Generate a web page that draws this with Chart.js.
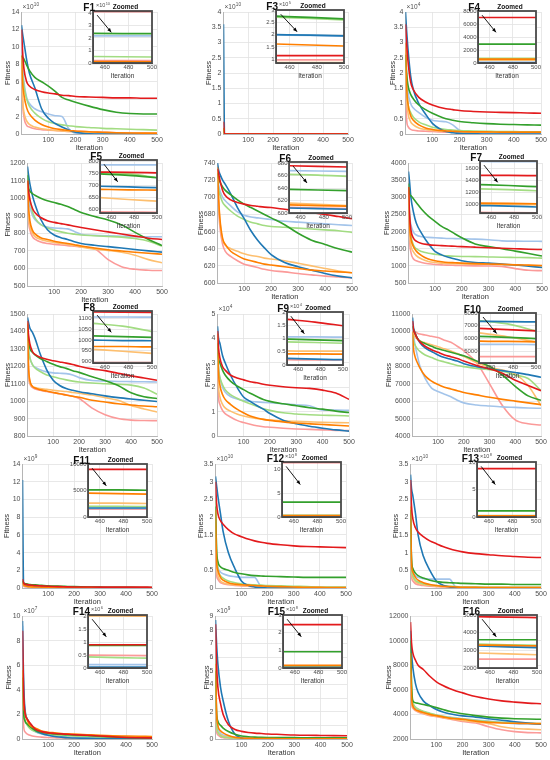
<!DOCTYPE html>
<html>
<head>
<meta charset="utf-8">
<script src="https://cdn.jsdelivr.net/npm/chart.js@4.4.1/dist/chart.umd.min.js"></script>
<style>
  body { margin: 0; background: #fff; }
  #fig { position: relative; width: 550px; height: 760px; overflow: hidden; background: #fff; }
  #fig canvas { position: absolute; }
</style>
</head>
<body>
<div id="fig"></div>
<script>
// iterations sampled from the curves (main plots) and the zoomed window
const IT = [1, 5, 10, 20, 30, 50, 75, 100, 125, 150, 175, 200, 250, 300, 350, 400, 450, 500];
const IT_ZOOM = [450, 475, 500];
const X_TICKS = [100, 200, 300, 400, 500];
const ZOOM_X_TICKS = [460, 480, 500];

// series order in every panel array below
const SERIES = ['lightblue', 'blue', 'lightgreen', 'green', 'pink', 'red', 'lightorange', 'orange'];
const COLORS = ['#a3c4ea', '#1f78b4', '#a2dc82', '#33a02c', '#fb9a99', '#e31a1c', '#fdbf6f', '#ff7f00'];
const Z_ORDER = [6, 3, 4, 2, 7, 0, 5, 1]; // lower = drawn on top

// ---- F1 (x1e10) ----
const F1_MAIN = [
  [11, 8, 6, 4.2, 3.5, 2.9, 2.55, 2.3, 2.1, 2.0, 0.6, 0.1, 0.03, 0.02, 0.01, 0.01, 0.01, 0.01],
  [12.5, 11.5, 10.5, 8.5, 7.0, 5.3, 2.9, 1.8, 1.2, 0.8, 0.45, 0.2, 0.03, 0, 0, 0, 0, 0],
  [9, 7, 5.5, 4.0, 3.2, 2.4, 1.8, 1.4, 1.2, 1.05, 0.95, 0.85, 0.75, 0.65, 0.6, 0.55, 0.5, 0.45],
  [9, 8.8, 8.6, 7.9, 7.3, 6.5, 6.0, 5.5, 4.9, 4.2, 3.9, 3.65, 3.2, 2.8, 2.5, 2.35, 2.3, 2.3],
  [11, 4, 2, 1.0, 0.8, 0.6, 0.5, 0.45, 0.4, 0.35, 0.3, 0.3, 0.25, 0.2, 0.15, 0.1, 0.08, 0.05],
  [12, 9.5, 7.5, 6.0, 5.5, 5.1, 4.85, 4.7, 4.6, 4.45, 4.4, 4.3, 4.25, 4.2, 4.15, 4.15, 4.1, 4.1],
  [8, 4, 2.5, 1.5, 1.1, 0.8, 0.6, 0.5, 0.4, 0.35, 0.3, 0.25, 0.2, 0.15, 0.12, 0.1, 0.08, 0.05],
  [9, 6, 4.5, 3.0, 2.3, 1.6, 1.1, 0.8, 0.6, 0.5, 0.4, 0.35, 0.25, 0.2, 0.15, 0.12, 0.1, 0.1]
];
const F1_ZOOM = [[2.16, 2.16, 2.16], [0.02, 0.02, 0.02], [0.52, 0.5, 0.48], [2.36, 2.35, 2.34],
  [0.2, 0.2, 0.2], [4.12, 4.12, 4.12], [0.06, 0.06, 0.06], [0.12, 0.11, 0.1]];
const F1_YT = [0, 2, 4, 6, 8, 10, 12, 14];
const F1_ZYT = [0, 1, 2, 3, 4];

// ---- F3 (x1e10, zoom x1e5) ----
const F3_MAIN = [
  [0.3, 0, 0, 0, 0, 0, 0, 0, 0, 0, 0, 0, 0, 0, 0, 0, 0, 0],
  [3.6, 0, 0, 0, 0, 0, 0, 0, 0, 0, 0, 0, 0, 0, 0, 0, 0, 0],
  [0.15, 0, 0, 0, 0, 0, 0, 0, 0, 0, 0, 0, 0, 0, 0, 0, 0, 0],
  [0.2, 0, 0, 0, 0, 0, 0, 0, 0, 0, 0, 0, 0, 0, 0, 0, 0, 0],
  [0.1, 0, 0, 0, 0, 0, 0, 0, 0, 0, 0, 0, 0, 0, 0, 0, 0, 0],
  [0.4, 0, 0, 0, 0, 0, 0, 0, 0, 0, 0, 0, 0, 0, 0, 0, 0, 0],
  [0.1, 0, 0, 0, 0, 0, 0, 0, 0, 0, 0, 0, 0, 0, 0, 0, 0, 0],
  [0.2, 0, 0, 0, 0, 0, 0, 0, 0, 0, 0, 0, 0, 0, 0, 0, 0, 0]
];
const F3_ZOOM = [[1.99, 1.97, 1.94], [2.0, 1.98, 1.95], [2.71, 2.66, 2.6], [2.75, 2.7, 2.64],
  [0.98, 0.98, 0.98], [1.15, 1.15, 1.15], [0.87, 0.87, 0.87], [1.62, 1.58, 1.54]];
const F3_YT = [0, 0.5, 1, 1.5, 2, 2.5, 3, 3.5, 4];
const F3_ZYT = [1, 1.5, 2, 2.5, 3];

// ---- F4 (x1e4) ----
const F4_MAIN = [
  [3.2, 2.0, 1.4, 1.0, 0.85, 0.7, 0.55, 0.45, 0.42, 0.4, 0.3, 0.12, 0.05, 0.03, 0.02, 0.02, 0.02, 0.02],
  [4.0, 3.4, 2.8, 1.9, 1.45, 1.0, 0.65, 0.35, 0.18, 0.08, 0.04, 0.02, 0.01, 0, 0, 0, 0, 0],
  [2.4, 1.5, 1.0, 0.7, 0.55, 0.4, 0.3, 0.22, 0.18, 0.15, 0.13, 0.11, 0.1, 0.09, 0.08, 0.08, 0.07, 0.07],
  [2.6, 2.0, 1.6, 1.3, 1.15, 0.95, 0.8, 0.68, 0.58, 0.5, 0.45, 0.41, 0.37, 0.34, 0.32, 0.31, 0.3, 0.29],
  [2.0, 0.5, 0.25, 0.15, 0.12, 0.1, 0.09, 0.08, 0.07, 0.06, 0.06, 0.05, 0.05, 0.05, 0.05, 0.05, 0.05, 0.05],
  [3.6, 3.0, 2.4, 1.7, 1.45, 1.2, 1.05, 0.95, 0.88, 0.83, 0.8, 0.77, 0.74, 0.72, 0.71, 0.7, 0.69, 0.68],
  [2.8, 1.2, 0.7, 0.4, 0.3, 0.2, 0.15, 0.12, 0.1, 0.09, 0.08, 0.07, 0.06, 0.06, 0.05, 0.05, 0.05, 0.05],
  [3.0, 1.6, 1.0, 0.6, 0.45, 0.3, 0.2, 0.15, 0.12, 0.1, 0.09, 0.08, 0.07, 0.07, 0.06, 0.06, 0.06, 0.06]
];
const F4_ZOOM = [[150, 150, 150], [20, 20, 20], [720, 710, 700], [2900, 2900, 2900],
  [500, 500, 500], [7000, 7000, 7000], [450, 450, 450], [600, 600, 600]];
const F4_YT = [0, 0.5, 1, 1.5, 2, 2.5, 3, 3.5, 4];
const F4_ZYT = [0, 2000, 4000, 6000, 8000];

// ---- F5 ----
const F5_MAIN = [
  [1120, 1000, 950, 900, 875, 850, 835, 830, 828, 825, 810, 795, 788, 785, 783, 781, 780, 780],
  [1180, 1130, 1080, 1010, 960, 880, 820, 790, 775, 765, 752, 742, 732, 724, 716, 708, 700, 693],
  [1150, 1050, 990, 920, 885, 850, 830, 818, 808, 800, 795, 790, 786, 782, 778, 770, 755, 727],
  [1130, 1060, 1040, 1025, 1015, 1000, 985, 975, 965, 952, 935, 918, 895, 876, 848, 805, 765, 730],
  [1100, 880, 820, 780, 765, 750, 742, 737, 733, 730, 726, 722, 712, 650, 610, 595, 590, 588],
  [1100, 1040, 990, 940, 915, 890, 872, 862, 855, 848, 840, 833, 820, 808, 796, 784, 772, 765],
  [1080, 900, 840, 800, 780, 765, 755, 748, 742, 736, 730, 722, 710, 702, 692, 675, 650, 632],
  [1100, 950, 870, 815, 795, 775, 765, 755, 748, 742, 735, 728, 716, 706, 699, 692, 686, 681]
];
const F5_ZOOM = [[786, 786, 786], [696, 693, 690], [755, 748, 733], [748, 742, 732],
  [588, 587, 586], [756, 755, 753], [648, 640, 633], [683, 681, 680]];
const F5_YT = [500, 600, 700, 800, 900, 1000, 1100, 1200];
const F5_ZYT = [600, 650, 700, 750, 800];

// ---- F6 ----
const F6_MAIN = [
  [725, 715, 708, 700, 696, 690, 683, 679, 677, 676, 675, 674, 672, 671, 670, 669, 668, 667],
  [740, 732, 727, 720, 715, 704, 688, 675, 661, 650, 641, 633, 624, 619, 615, 611, 608, 606],
  [720, 710, 703, 694, 690, 684, 678, 674, 671, 669, 667, 666, 665, 664, 663, 662, 661, 659],
  [728, 722, 718, 712, 708, 703, 697, 692, 688, 684, 680, 676, 668, 658, 650, 645, 640, 636],
  [725, 688, 665, 645, 637, 631, 626, 622, 620, 618, 616, 614.5, 613, 611, 609.5, 608, 607, 606],
  [733, 728, 720, 708, 702, 697, 694, 692, 690.5, 689.5, 688.5, 688, 686, 684, 682, 680, 677.5, 675],
  [730, 695, 672, 650, 644, 640, 637, 634, 632, 631, 629, 628, 626, 623, 620, 617, 614, 612],
  [735, 700, 675, 652, 645, 637, 632, 628, 626, 624, 622, 621, 619, 617, 615, 614, 613, 612]
];
const F6_ZOOM = [[668, 667.5, 667], [608, 607, 606], [662, 661, 659], [638, 637, 636],
  [609, 608, 607], [676, 675, 674], [616, 614, 612], [613, 612, 611]];
const F6_YT = [600, 620, 640, 660, 680, 700, 720, 740];
const F6_ZYT = [600, 620, 640, 660, 680];

// ---- F7 ----
const F7_MAIN = [
  [3200, 2500, 2200, 1980, 1900, 1850, 1830, 1820, 1810, 1800, 1795, 1790, 1780, 1760, 1730, 1720, 1718, 1715],
  [3750, 3450, 3000, 2550, 2250, 1950, 1650, 1420, 1320, 1250, 1200, 1150, 1100, 1080, 1050, 1030, 990, 950],
  [3300, 2400, 1900, 1600, 1500, 1420, 1370, 1340, 1310, 1290, 1280, 1275, 1270, 1260, 1250, 1245, 1240, 1225],
  [3400, 3100, 3050, 2950, 2850, 2650, 2450, 2300, 2150, 2050, 1930, 1820, 1640, 1560, 1500, 1430, 1360, 1285],
  [3300, 1800, 1400, 1200, 1150, 1100, 1060, 1040, 1030, 1020, 1015, 1010, 1000, 995, 985, 920, 870, 860],
  [3300, 2500, 2050, 1800, 1720, 1650, 1620, 1600, 1590, 1580, 1570, 1560, 1545, 1530, 1515, 1500, 1485, 1475],
  [3200, 2000, 1600, 1400, 1300, 1200, 1130, 1100, 1080, 1070, 1060, 1055, 1050, 1045, 1035, 1020, 1010, 1000],
  [3300, 2200, 1800, 1550, 1430, 1300, 1200, 1150, 1120, 1100, 1090, 1080, 1065, 1055, 1045, 1030, 1020, 1010]
];
const F7_ZOOM = [[1722, 1720, 1718], [985, 975, 960], [1265, 1250, 1232], [1335, 1320, 1300],
  [870, 866, 862], [1490, 1488, 1485], [1010, 1005, 1000], [1025, 1020, 1015]];
const F7_YT = [500, 1000, 1500, 2000, 2500, 3000, 3500, 4000];
const F7_ZYT = [1000, 1200, 1400, 1600];

// ---- F8 ----
const F8_MAIN = [
  [1420, 1300, 1250, 1210, 1195, 1180, 1168, 1162, 1160, 1158, 1150, 1135, 1118, 1115, 1113, 1112, 1111, 1110],
  [1480, 1450, 1420, 1395, 1360, 1270, 1180, 1120, 1090, 1072, 1062, 1054, 1042, 1030, 1020, 1012, 1005, 998],
  [1420, 1300, 1250, 1210, 1190, 1170, 1150, 1140, 1130, 1122, 1115, 1110, 1104, 1100, 1096, 1092, 1075, 1040],
  [1440, 1350, 1305, 1280, 1265, 1245, 1228, 1212, 1198, 1188, 1175, 1165, 1140, 1118, 1090, 1048, 1025, 1015],
  [1400, 1150, 1100, 1078, 1070, 1062, 1055, 1048, 1042, 1036, 1028, 1015, 960, 922, 900, 891, 889, 888],
  [1460, 1380, 1330, 1285, 1268, 1252, 1240, 1232, 1225, 1218, 1210, 1200, 1185, 1175, 1160, 1145, 1133, 1120],
  [1420, 1180, 1110, 1085, 1078, 1072, 1068, 1062, 1058, 1055, 1050, 1045, 1035, 1020, 1005, 975, 955, 938],
  [1450, 1200, 1120, 1085, 1075, 1065, 1058, 1050, 1042, 1035, 1028, 1022, 1005, 995, 985, 978, 972, 968]
];
const F8_ZOOM = [[1108, 1108, 1107], [1000, 998, 997], [1078, 1065, 1040], [1020, 1016, 1013],
  [895, 895, 895], [1132, 1131, 1130], [957, 948, 938], [970, 970, 968]];
const F8_YT = [800, 900, 1000, 1100, 1200, 1300, 1400, 1500];
const F8_ZYT = [900, 950, 1000, 1050, 1100];

// ---- F9 (x1e4) ----
const F9_MAIN = [
  [3.5, 2.8, 2.4, 2.0, 1.8, 1.62, 1.52, 1.45, 1.42, 1.4, 1.38, 1.36, 1.32, 1.28, 1.24, 1.06, 1.06, 1.05],
  [4.5, 4.0, 3.8, 3.3, 3.0, 2.5, 2.0, 1.6, 1.42, 1.25, 1.1, 0.92, 0.65, 0.5, 0.4, 0.32, 0.25, 0.2],
  [3.4, 2.7, 2.4, 2.1, 1.9, 1.7, 1.55, 1.42, 1.32, 1.22, 1.12, 1.05, 0.95, 0.9, 0.87, 0.85, 0.84, 0.82],
  [3.8, 3.2, 3.0, 2.7, 2.5, 2.25, 2.05, 1.9, 1.75, 1.62, 1.5, 1.42, 1.32, 1.24, 1.16, 1.1, 1.02, 0.96],
  [2.8, 1.6, 1.3, 1.05, 0.92, 0.78, 0.64, 0.55, 0.48, 0.42, 0.38, 0.36, 0.32, 0.29, 0.27, 0.25, 0.23, 0.22],
  [4.3, 3.6, 3.2, 2.85, 2.7, 2.5, 2.38, 2.3, 2.22, 2.18, 2.12, 2.08, 2.02, 1.98, 1.95, 1.88, 1.76, 1.5],
  [3.0, 2.0, 1.6, 1.3, 1.15, 1.02, 0.9, 0.82, 0.76, 0.72, 0.68, 0.65, 0.62, 0.6, 0.58, 0.56, 0.55, 0.54],
  [4.2, 2.6, 2.1, 1.7, 1.5, 1.3, 1.1, 0.95, 0.82, 0.74, 0.68, 0.64, 0.58, 0.53, 0.5, 0.47, 0.44, 0.41]
];
const F9_ZOOM = [[1.06, 1.06, 1.05], [0.25, 0.22, 0.2], [0.87, 0.85, 0.82], [0.98, 0.95, 0.92],
  [0.2, 0.19, 0.19], [1.72, 1.62, 1.48], [0.53, 0.52, 0.52], [0.42, 0.42, 0.41]];
const F9_YT = [0, 1, 2, 3, 4, 5];
const F9_ZYT = [0, 0.5, 1, 1.5, 2];

// ---- F10 ----
const F10_MAIN = [
  [10500, 9800, 9300, 8600, 8000, 7300, 6750, 6550, 6400, 6250, 6050, 5900, 5780, 5720, 5670, 5640, 5610, 5590],
  [10800, 10200, 9950, 9600, 9350, 9050, 8850, 8650, 8500, 8400, 8300, 8150, 7980, 7860, 7750, 7640, 7520, 7370],
  [9800, 9450, 9250, 9000, 8850, 8650, 8500, 8350, 8250, 8150, 8050, 7980, 7880, 7800, 7720, 7500, 7300, 6600],
  [10300, 10100, 9900, 9600, 9450, 9300, 9150, 9000, 8900, 8800, 8700, 8600, 8300, 8000, 7500, 6850, 6300, 6050],
  [10300, 10100, 10000, 9900, 9850, 9800, 9720, 9650, 9500, 9380, 9150, 8900, 8200, 7000, 5750, 4920, 4700, 4630],
  [10600, 10100, 9900, 9600, 9400, 9150, 8950, 8800, 8650, 8550, 8450, 8300, 8050, 7850, 7600, 7200, 6900, 6600],
  [10000, 9800, 9700, 9550, 9450, 9350, 9230, 9120, 9000, 8880, 8730, 8580, 8200, 7950, 7780, 7550, 6900, 5750],
  [10000, 9000, 8600, 8200, 7900, 7450, 7150, 6950, 6800, 6700, 6600, 6500, 6360, 6220, 6100, 6000, 5900, 5800]
];
const F10_ZOOM = [[5550, 5550, 5540], [7350, 7320, 7300], [7400, 7150, 6600], [6180, 6100, 6000],
  [4600, 4600, 4600], [6800, 6700, 6600], [6450, 6150, 5750], [5800, 5780, 5750]];
const F10_YT = [4000, 5000, 6000, 7000, 8000, 9000, 10000, 11000];
const F10_ZYT = [5000, 6000, 7000, 8000];

// ---- F11 (x1e9) ----
const F11_MAIN = [
  [0.5, 0.3, 0.2, 0.15, 0.12, 0.1, 0.08, 0.06, 0.05, 0.04, 0.03, 0.03, 0.02, 0.02, 0.01, 0.01, 0.01, 0.01],
  [12.2, 0.6, 0.4, 0.3, 0.25, 0.2, 0.15, 0.1, 0.08, 0.06, 0.05, 0.04, 0.03, 0.02, 0.02, 0.01, 0.01, 0.01],
  [0.7, 0.45, 0.4, 0.35, 0.32, 0.28, 0.24, 0.2, 0.17, 0.15, 0.13, 0.11, 0.09, 0.07, 0.06, 0.05, 0.04, 0.03],
  [0.8, 0.55, 0.5, 0.45, 0.4, 0.35, 0.3, 0.25, 0.22, 0.2, 0.17, 0.15, 0.12, 0.1, 0.08, 0.07, 0.06, 0.05],
  [0.4, 0.2, 0.15, 0.1, 0.08, 0.06, 0.05, 0.04, 0.03, 0.03, 0.02, 0.02, 0.02, 0.01, 0.01, 0.01, 0.01, 0.01],
  [1.0, 0.6, 0.45, 0.38, 0.33, 0.28, 0.24, 0.2, 0.17, 0.15, 0.13, 0.12, 0.11, 0.1, 0.1, 0.1, 0.1, 0.09],
  [0.5, 0.3, 0.22, 0.16, 0.13, 0.1, 0.08, 0.06, 0.05, 0.04, 0.03, 0.03, 0.02, 0.02, 0.02, 0.01, 0.01, 0.01],
  [0.6, 0.35, 0.25, 0.18, 0.15, 0.12, 0.1, 0.08, 0.06, 0.05, 0.04, 0.03, 0.03, 0.02, 0.02, 0.02, 0.01, 0.01]
];
const F11_ZOOM = [[1600, 1600, 1600], [1700, 1700, 1700], [2000, 2000, 1950], [5100, 5100, 5050],
  [1500, 1500, 1500], [9000, 9000, 9000], [2600, 2600, 2550], [4500, 4400, 4300]];
const F11_YT = [0, 2, 4, 6, 8, 10, 12, 14];
const F11_ZYT = [0, 5000, 10000];

// ---- F12 (x1e10, zoom x1e8) ----
const F12_MAIN = [
  [2.0, 1.0, 0.6, 0.45, 0.4, 0.35, 0.32, 0.3, 0.3, 0.3, 0.05, 0.02, 0.01, 0, 0, 0, 0, 0],
  [3.15, 2.9, 2.6, 2.1, 1.6, 1.0, 0.55, 0.2, 0.08, 0.03, 0.01, 0, 0, 0, 0, 0, 0, 0],
  [2.5, 1.0, 0.55, 0.35, 0.28, 0.2, 0.15, 0.12, 0.1, 0.09, 0.08, 0.07, 0.06, 0.05, 0.04, 0.03, 0.03, 0.03],
  [2.3, 1.1, 0.75, 0.6, 0.55, 0.5, 0.44, 0.4, 0.37, 0.35, 0.34, 0.33, 0.32, 0.31, 0.3, 0.3, 0.3, 0.3],
  [1.5, 0.4, 0.25, 0.15, 0.12, 0.09, 0.07, 0.06, 0.05, 0.04, 0.04, 0.03, 0.02, 0.02, 0.01, 0.01, 0.01, 0.01],
  [3.0, 2.4, 2.1, 1.9, 1.8, 1.65, 1.52, 1.45, 1.38, 1.33, 1.29, 1.26, 1.22, 1.19, 1.17, 1.16, 1.15, 1.14],
  [1.8, 0.6, 0.35, 0.2, 0.15, 0.11, 0.09, 0.07, 0.06, 0.05, 0.04, 0.03, 0.02, 0.02, 0.01, 0.01, 0.01, 0.01],
  [2.2, 0.8, 0.5, 0.3, 0.22, 0.15, 0.11, 0.09, 0.08, 0.07, 0.06, 0.05, 0.04, 0.03, 0.02, 0.02, 0.01, 0.01]
];
const F12_ZOOM = [[0.3, 0.3, 0.3], [0.1, 0.1, 0.1], [0.35, 0.35, 0.35], [3.1, 3.1, 3.1],
  [0.2, 0.2, 0.2], [11.4, 11.4, 11.4], [0.25, 0.25, 0.25], [0.3, 0.3, 0.3]];
const F12_YT = [0, 0.5, 1, 1.5, 2, 2.5, 3, 3.5];
const F12_ZYT = [0, 5, 10];

// ---- F13 (x1e10, zoom x1e8) ----
const F13_MAIN = [
  [2.0, 0.8, 0.5, 0.35, 0.3, 0.26, 0.25, 0.25, 0.25, 0.25, 0.03, 0.02, 0.01, 0, 0, 0, 0, 0],
  [3.2, 2.8, 2.6, 2.1, 1.5, 0.9, 0.5, 0.2, 0.08, 0.03, 0.01, 0, 0, 0, 0, 0, 0, 0],
  [2.3, 0.6, 0.35, 0.22, 0.17, 0.12, 0.09, 0.07, 0.06, 0.05, 0.04, 0.03, 0.03, 0.02, 0.02, 0.02, 0.02, 0.02],
  [2.2, 0.8, 0.55, 0.42, 0.35, 0.28, 0.22, 0.18, 0.16, 0.15, 0.14, 0.13, 0.12, 0.11, 0.11, 0.1, 0.1, 0.1],
  [1.6, 0.35, 0.2, 0.12, 0.09, 0.07, 0.05, 0.04, 0.03, 0.03, 0.02, 0.02, 0.01, 0.01, 0.01, 0.01, 0.01, 0.01],
  [3.05, 2.3, 1.95, 1.7, 1.58, 1.45, 1.33, 1.25, 1.17, 1.11, 1.06, 1.02, 0.97, 0.94, 0.91, 0.89, 0.87, 0.86],
  [1.8, 0.5, 0.3, 0.18, 0.13, 0.09, 0.07, 0.05, 0.04, 0.03, 0.02, 0.02, 0.01, 0.01, 0.01, 0.01, 0.01, 0.01],
  [2.3, 0.7, 0.45, 0.3, 0.22, 0.15, 0.1, 0.07, 0.05, 0.04, 0.03, 0.02, 0.02, 0.01, 0.01, 0.01, 0.01, 0.01]
];
const F13_ZOOM = [[0.2, 0.2, 0.2], [0.1, 0.1, 0.1], [0.25, 0.25, 0.25], [1.1, 1.1, 1.1],
  [0.15, 0.15, 0.15], [8.8, 8.8, 8.8], [0.2, 0.2, 0.2], [0.2, 0.2, 0.2]];
const F13_YT = [0, 0.5, 1, 1.5, 2, 2.5, 3, 3.5];
const F13_ZYT = [0, 5, 10];

// ---- F14 (x1e7, zoom x1e6) ----
const F14_MAIN = [
  [9.2, 4.0, 2.5, 1.5, 1.0, 0.6, 0.4, 0.3, 0.25, 0.2, 0.18, 0.15, 0.12, 0.1, 0.08, 0.05, 0.03, 0.02],
  [9.6, 5.0, 2.5, 1.6, 1.2, 0.7, 0.45, 0.3, 0.2, 0.15, 0.1, 0.08, 0.05, 0.04, 0.03, 0.02, 0.01, 0.01],
  [6.0, 2.5, 1.6, 1.1, 0.85, 0.6, 0.45, 0.38, 0.33, 0.3, 0.27, 0.25, 0.2, 0.15, 0.1, 0.07, 0.05, 0.04],
  [5.0, 2.2, 1.5, 1.2, 1.0, 0.7, 0.55, 0.48, 0.42, 0.38, 0.35, 0.32, 0.28, 0.22, 0.17, 0.13, 0.1, 0.09],
  [6.5, 1.2, 0.6, 0.4, 0.3, 0.2, 0.15, 0.12, 0.1, 0.08, 0.07, 0.06, 0.06, 0.05, 0.05, 0.05, 0.05, 0.05],
  [8.8, 4.0, 2.2, 1.6, 1.3, 0.8, 0.6, 0.5, 0.45, 0.42, 0.38, 0.35, 0.3, 0.25, 0.18, 0.12, 0.1, 0.09],
  [5.4, 2.4, 1.6, 1.2, 0.95, 0.7, 0.55, 0.45, 0.4, 0.35, 0.32, 0.3, 0.26, 0.23, 0.2, 0.18, 0.15, 0.14],
  [5.6, 3.0, 2.2, 1.5, 1.1, 0.9, 0.65, 0.55, 0.5, 0.45, 0.42, 0.4, 0.35, 0.3, 0.26, 0.24, 0.22, 0.2]
];
const F14_ZOOM = [[0.13, 0.13, 0.13], [0.03, 0.03, 0.03], [0.43, 0.4, 0.38], [0.87, 0.87, 0.87],
  [0.5, 0.49, 0.48], [0.9, 0.9, 0.9], [2.02, 2.02, 2.02], [2.04, 2.04, 2.03]];
const F14_YT = [0, 2, 4, 6, 8, 10];
const F14_ZYT = [0, 0.5, 1, 1.5, 2];

// ---- F15 (x1e9, zoom x1e8) ----
const F15_MAIN = [
  [5.0, 1.5, 0.8, 0.4, 0.3, 0.2, 0.12, 0.08, 0.05, 0.03, 0.02, 0.02, 0.01, 0.01, 0.01, 0.01, 0.01, 0.01],
  [8.7, 7.0, 5.5, 3.8, 2.8, 1.3, 0.35, 0.08, 0.03, 0.02, 0.01, 0.01, 0.01, 0.01, 0.01, 0.01, 0.01, 0.01],
  [6.0, 1.2, 0.5, 0.25, 0.15, 0.1, 0.07, 0.05, 0.04, 0.03, 0.03, 0.02, 0.02, 0.02, 0.02, 0.02, 0.02, 0.02],
  [5.0, 2.0, 1.3, 1.0, 0.8, 0.55, 0.35, 0.22, 0.17, 0.14, 0.12, 0.11, 0.1, 0.1, 0.09, 0.09, 0.09, 0.09],
  [4.0, 0.6, 0.3, 0.15, 0.1, 0.07, 0.05, 0.04, 0.03, 0.02, 0.02, 0.02, 0.01, 0.01, 0.01, 0.01, 0.01, 0.01],
  [8.4, 5.5, 3.8, 2.6, 1.8, 1.05, 0.7, 0.56, 0.48, 0.43, 0.4, 0.37, 0.33, 0.29, 0.27, 0.26, 0.25, 0.24],
  [4.5, 1.0, 0.5, 0.3, 0.2, 0.12, 0.08, 0.05, 0.04, 0.03, 0.02, 0.02, 0.02, 0.02, 0.02, 0.02, 0.02, 0.02],
  [5.5, 2.0, 1.0, 0.6, 0.45, 0.25, 0.12, 0.07, 0.05, 0.04, 0.03, 0.03, 0.02, 0.02, 0.02, 0.02, 0.02, 0.02]
];
const F15_ZOOM = [[0.05, 0.05, 0.05], [0.03, 0.03, 0.03], [0.08, 0.08, 0.08], [0.92, 0.92, 0.92],
  [0.06, 0.06, 0.06], [2.45, 2.45, 2.45], [0.12, 0.12, 0.12], [0.15, 0.15, 0.15]];
const F15_YT = [0, 1, 2, 3, 4, 5, 6, 7, 8, 9];
const F15_ZYT = [0, 1, 2, 3];

// ---- F16 ----
const F16_MAIN = [
  [9500, 5500, 4800, 4500, 4400, 4200, 4050, 3950, 3850, 3780, 3720, 3650, 3550, 3450, 3350, 3250, 3220, 3200],
  [10800, 9000, 7800, 6500, 5800, 5100, 4700, 4400, 4200, 4050, 3950, 3880, 3780, 3650, 3530, 3400, 3290, 3200],
  [10500, 6000, 5000, 4600, 4450, 4250, 4100, 3950, 3850, 3750, 3680, 3620, 3520, 3420, 3350, 3300, 3280, 3260],
  [10000, 6500, 5100, 4950, 4900, 4800, 4700, 4550, 4400, 4250, 4150, 4050, 3900, 3780, 3700, 3650, 3620, 3600],
  [8000, 5000, 4500, 4300, 4200, 4050, 3900, 3820, 3720, 3620, 3520, 3420, 3300, 3000, 2750, 2600, 2520, 2500],
  [11500, 9800, 9000, 8400, 8000, 7650, 7100, 6650, 6350, 6100, 5900, 5750, 5450, 5250, 5100, 5000, 4920, 4870],
  [8500, 5200, 4600, 4350, 4250, 4100, 3950, 3850, 3750, 3650, 3580, 3500, 3380, 3250, 3000, 2850, 2800, 2750],
  [9000, 5500, 4700, 4400, 4300, 4150, 4000, 3900, 3800, 3700, 3650, 3600, 3450, 3350, 3300, 3280, 3260, 3250]
];
const F16_ZOOM = [[3250, 3230, 3200], [3250, 3200, 3150], [3350, 3310, 3280], [3600, 3600, 3600],
  [2500, 2500, 2500], [4900, 4880, 4850], [2850, 2800, 2750], [3300, 3280, 3250]];
const F16_YT = [2000, 4000, 6000, 8000, 10000, 12000];
const F16_ZYT = [2000, 3000, 4000, 5000];

// layout: plot rectangles [left, top, right, bottom] in page px, fit = offset of "Fitness"
const PANELS = [
  { name: 'F1', main: F1_MAIN, zoom: F1_ZOOM, yt: F1_YT, zyt: F1_ZYT, y: [0, 14], zy: [0, 4.15], exp: 10, zexp: 10, box: [21, 12, 157, 134], zbox: [93, 11, 152, 63], fit: 14 },
  { name: 'F3', main: F3_MAIN, zoom: F3_ZOOM, yt: F3_YT, zyt: F3_ZYT, y: [0, 4], zy: [0.85, 3.0], exp: 10, zexp: 5, box: [223, 12, 348, 134], zbox: [276, 10, 344, 63], fit: 15 },
  { name: 'F4', main: F4_MAIN, zoom: F4_ZOOM, yt: F4_YT, zyt: F4_ZYT, y: [0, 4], zy: [0, 8000], exp: 4, zexp: null, box: [405, 12, 541, 134], zbox: [478, 11, 536, 63], fit: 13 },
  { name: 'F5', main: F5_MAIN, zoom: F5_ZOOM, yt: F5_YT, zyt: F5_ZYT, y: [500, 1200], zy: [583, 807], exp: null, zexp: null, box: [27, 163, 162, 286], zbox: [100, 160, 157, 213], fit: 20 },
  { name: 'F6', main: F6_MAIN, zoom: F6_ZOOM, yt: F6_YT, zyt: F6_ZYT, y: [600, 740], zy: [600, 682], exp: null, zexp: null, box: [217, 163, 352, 283], zbox: [289, 162, 347, 213], fit: 17 },
  { name: 'F7', main: F7_MAIN, zoom: F7_ZOOM, yt: F7_YT, zyt: F7_ZYT, y: [500, 4000], zy: [860, 1730], exp: null, zexp: null, box: [408, 163, 542, 283], zbox: [480, 161, 537, 213], fit: 22 },
  { name: 'F8', main: F8_MAIN, zoom: F8_ZOOM, yt: F8_YT, zyt: F8_ZYT, y: [800, 1500], zy: [893, 1136], exp: null, zexp: null, box: [27, 314, 157, 436], zbox: [93, 311, 152, 363], fit: 20 },
  { name: 'F9', main: F9_MAIN, zoom: F9_ZOOM, yt: F9_YT, zyt: F9_ZYT, y: [0, 5], zy: [0, 2], exp: 4, zexp: 4, box: [217, 314, 349, 436], zbox: [287, 312, 343, 365], fit: 10 },
  { name: 'F10', main: F10_MAIN, zoom: F10_ZOOM, yt: F10_YT, zyt: F10_ZYT, y: [4000, 11000], zy: [4100, 8000], exp: null, zexp: null, box: [412, 314, 541, 436], zbox: [479, 313, 536, 363], fit: 24 },
  { name: 'F11', main: F11_MAIN, zoom: F11_ZOOM, yt: F11_YT, zyt: F11_ZYT, y: [0, 14], zy: [0, 10000], exp: 9, zexp: null, box: [22, 464, 152, 588], zbox: [88, 464, 147, 517], fit: 16 },
  { name: 'F12', main: F12_MAIN, zoom: F12_ZOOM, yt: F12_YT, zyt: F12_ZYT, y: [0, 3.5], zy: [0, 11.5], exp: 10, zexp: 8, box: [215, 464, 346, 588], zbox: [282, 462, 341, 517], fit: 15 },
  { name: 'F13', main: F13_MAIN, zoom: F13_ZOOM, yt: F13_YT, zyt: F13_ZYT, y: [0, 3.5], zy: [0, 10], exp: 10, zexp: 8, box: [410, 464, 541, 588], zbox: [477, 462, 536, 517], fit: 15 },
  { name: 'F14', main: F14_MAIN, zoom: F14_ZOOM, yt: F14_YT, zyt: F14_ZYT, y: [0, 10], zy: [0, 2.05], exp: 7, zexp: 6, box: [22, 616, 152, 739], zbox: [88, 615, 147, 668], fit: 14 },
  { name: 'F15', main: F15_MAIN, zoom: F15_ZOOM, yt: F15_YT, zyt: F15_ZYT, y: [0, 9], zy: [0, 3], exp: 9, zexp: 8, box: [215, 616, 347, 739], zbox: [283, 615, 342, 668], fit: 9 },
  { name: 'F16', main: F16_MAIN, zoom: F16_ZOOM, yt: F16_YT, zyt: F16_ZYT, y: [2000, 12000], zy: [2000, 5000], exp: null, zexp: null, box: [410, 616, 541, 739], zbox: [478, 615, 537, 668], fit: 22 }
];

const FONT = '"Liberation Sans", Arial, Helvetica, sans-serif';
const TXT = '#4d4d4d';
const GRID = '#e2e2e2';
const fig = document.getElementById('fig');

function addCanvas(x, y, w, h) {
  const c = document.createElement('canvas');
  c.width = w; c.height = h;
  c.style.left = x + 'px'; c.style.top = y + 'px';
  c.style.width = w + 'px'; c.style.height = h + 'px';
  fig.appendChild(c);
  return c;
}

function drawExp(ctx, x, y, exp, size) {
  ctx.save();
  ctx.fillStyle = TXT;
  ctx.textAlign = 'left';
  ctx.textBaseline = 'alphabetic';
  ctx.font = size + 'px ' + FONT;
  ctx.fillText('\u00d710', x, y);
  const w = ctx.measureText('\u00d710').width;
  ctx.font = (size * 0.72) + 'px ' + FONT;
  ctx.fillText(String(exp), x + w + 0.3, y - size * 0.45);
  ctx.restore();
}

function lineChart(o) {
  const [L, T, R, B] = o.box;
  const W = o.ml + (R - L) + o.mr;
  const H = o.mt + (B - T) + o.mb;
  const cv = addCanvas(L - o.ml, T - o.mt, W, H);
  const fix = (size) => (s) => {
    if (s.isHorizontal()) s.height = size; else s.width = size;
    s.paddingLeft = s.paddingRight = s.paddingTop = s.paddingBottom = 0;
  };
  return new Chart(cv, {
    type: 'line',
    data: {
      datasets: o.series.map((ys, i) => ({
        label: SERIES[i],
        data: o.xs.map((x, k) => ({ x: x, y: ys[k] })),
        borderColor: COLORS[i],
        borderWidth: o.lw,
        pointRadius: 0,
        fill: false,
        cubicInterpolationMode: 'monotone',
        order: Z_ORDER[i]
      }))
    },
    options: {
      responsive: false,
      animation: false,
      events: [],
      layout: { padding: { top: o.mt, right: o.mr, left: 0, bottom: 0 } },
      plugins: { legend: { display: false }, tooltip: { enabled: false } },
      scales: {
        x: {
          type: 'linear', min: o.x[0], max: o.x[1],
          afterBuildTicks: (s) => { s.ticks = o.xt.map(v => ({ value: v })); },
          afterFit: fix(o.mb),
          ticks: { autoSkip: false, maxRotation: 0, padding: o.tpad, color: TXT,
                   font: { family: FONT, size: o.fs }, callback: v => String(v) },
          grid: { color: GRID, lineWidth: 0.8, drawTicks: false },
          border: { display: true, color: o.axis, width: 1 },
          title: { display: true, text: 'Iteration', padding: 0, color: '#333',
                   font: { family: FONT, size: o.ts } }
        },
        y: {
          type: 'linear', min: o.y[0], max: o.y[1],
          afterBuildTicks: (s) => { s.ticks = o.yt.map(v => ({ value: v })); },
          afterFit: fix(o.ml),
          ticks: { autoSkip: false, padding: o.ypad, color: TXT,
                   font: { family: FONT, size: o.fs }, callback: v => String(v) },
          grid: { color: GRID, lineWidth: 0.8, drawTicks: false },
          border: { display: true, color: o.axis, width: 1 },
          title: { display: o.yTitle, text: 'Fitness', padding: 0, color: '#333',
                   font: { family: FONT, size: o.ts } }
        }
      }
    },
    plugins: [o.deco]
  });
}

function mainDeco(p) {
  return {
    id: 'mainDeco',
    afterDraw(chart) {
      if (p.exp === null) return;
      const a = chart.chartArea;
      drawExp(chart.ctx, a.left + 1, a.top - 3, p.exp, 6.5);
    }
  };
}

function zoomDeco(p) {
  return {
    id: 'zoomDeco',
    beforeDraw(chart) {
      const a = chart.chartArea, ctx = chart.ctx;
      ctx.save();
      ctx.fillStyle = '#fff';
      ctx.fillRect(a.left, a.top, a.right - a.left, a.bottom - a.top);
      ctx.restore();
    },
    afterDraw(chart) {
      const a = chart.chartArea, ctx = chart.ctx;
      const w = a.right - a.left, h = a.bottom - a.top;
      ctx.save();
      ctx.strokeStyle = '#4a4a4a';
      ctx.lineWidth = 1.8;
      ctx.strokeRect(a.left, a.top, w, h);
      // arrow
      const x0 = a.left + 0.07 * w, y0 = a.top + 0.08 * h;
      const x1 = a.left + 0.31 * w, y1 = a.top + 0.41 * h;
      ctx.strokeStyle = '#000'; ctx.fillStyle = '#000'; ctx.lineWidth = 0.9;
      ctx.beginPath(); ctx.moveTo(x0, y0); ctx.lineTo(x1, y1); ctx.stroke();
      const ang = Math.atan2(y1 - y0, x1 - x0), hl = 4.5;
      ctx.beginPath();
      ctx.moveTo(x1, y1);
      ctx.lineTo(x1 - hl * Math.cos(ang - 0.4), y1 - hl * Math.sin(ang - 0.4));
      ctx.lineTo(x1 - hl * Math.cos(ang + 0.4), y1 - hl * Math.sin(ang + 0.4));
      ctx.closePath(); ctx.fill();
      // titles
      ctx.fillStyle = '#111';
      ctx.textBaseline = 'alphabetic';
      ctx.font = 'bold 6.5px ' + FONT;
      ctx.textAlign = 'center';
      ctx.fillText('Zoomed', (a.left + a.right) / 2 + 3, a.top - 2.5);
      ctx.font = 'bold 10px ' + FONT;
      ctx.textAlign = 'right';
      ctx.fillText(p.name, a.left + 2, a.top - 0.5);
      ctx.restore();
      if (p.zexp !== null) drawExp(ctx, a.left + 3, a.top - 4, p.zexp, 5.5);
    }
  };
}

PANELS.forEach(p => {
  lineChart({
    box: p.box, xs: IT, series: p.main, x: [1, 500], xt: X_TICKS, y: p.y, yt: p.yt,
    ml: p.fit + 4.5, mr: 8, mt: 12, mb: 18, lw: 1.6, fs: 7, ts: 7.5, tpad: 1.5, ypad: 2,
    axis: '#b5b5b5', yTitle: true, deco: mainDeco(p)
  });
});
PANELS.forEach(p => {
  lineChart({
    box: p.zbox, xs: IT_ZOOM, series: p.zoom, x: [450, 500], xt: ZOOM_X_TICKS, y: p.zy, yt: p.zyt,
    ml: 22, mr: 5, mt: 12, mb: 17, lw: 1.7, fs: 6, ts: 6.5, tpad: 1.2, ypad: 1.5,
    axis: '#4a4a4a', yTitle: false, deco: zoomDeco(p)
  });
});
</script>
</body>
</html>
